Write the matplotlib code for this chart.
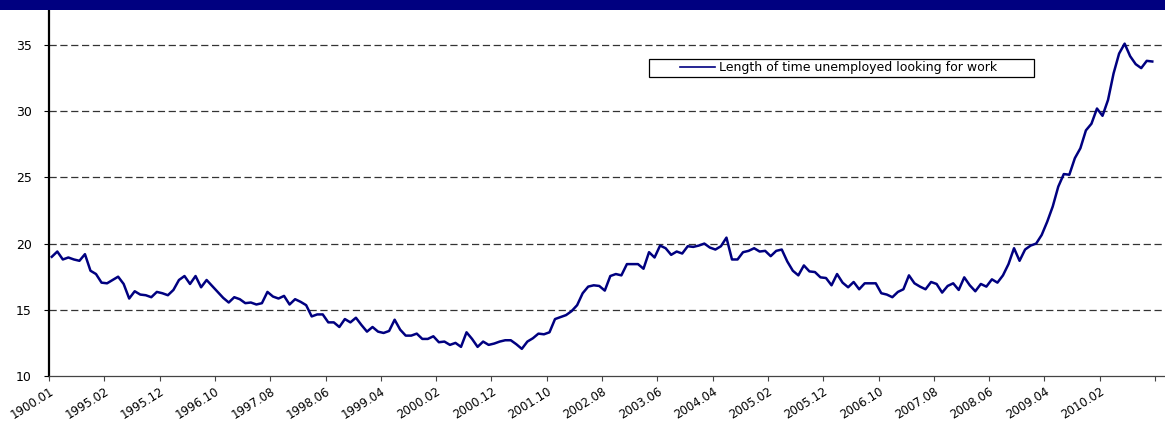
import matplotlib
matplotlib.use("Agg")
import matplotlib.pyplot as plt
from matplotlib.patches import Rectangle

# Monthly series, first month labelled "1900.01" in the source workbook
months_label = ['1900.01', '1995.02', '1995.12', '1996.10', '1997.08', '1998.06',
                '1999.04', '2000.02', '2000.12', '2001.10', '2002.08', '2003.06',
                '2004.04', '2005.02', '2005.12', '2006.10', '2007.08', '2008.06',
                '2009.04', '2010.02', '']

weeks_unemployed = [
    19.0, 19.4, 18.8, 18.95, 18.8, 18.7, 19.2, 17.95, 17.7, 17.05,
    17.0, 17.25, 17.5, 16.95, 15.85, 16.4, 16.15, 16.1, 15.95, 16.35,
    16.25, 16.1, 16.5, 17.25, 17.55, 16.95, 17.55, 16.7, 17.25, 16.8,
    16.35, 15.9, 15.55, 15.95, 15.8, 15.5, 15.55, 15.4, 15.5, 16.35,
    16.0, 15.85, 16.05, 15.4, 15.8, 15.6, 15.35, 14.5, 14.65, 14.65,
    14.05, 14.05, 13.7, 14.3, 14.05, 14.4, 13.85, 13.35, 13.7, 13.35,
    13.25, 13.4, 14.25, 13.5, 13.05, 13.05, 13.2, 12.8, 12.8, 13.0,
    12.55, 12.6, 12.35, 12.5, 12.2, 13.3, 12.8, 12.2, 12.6, 12.35,
    12.45, 12.6, 12.7, 12.7, 12.4, 12.05, 12.6, 12.85, 13.2, 13.15,
    13.3, 14.3, 14.45, 14.6, 14.9, 15.35, 16.25, 16.75, 16.85, 16.8,
    16.45, 17.55, 17.7, 17.6, 18.45, 18.45, 18.45, 18.1, 19.35, 18.95,
    19.85, 19.65, 19.15, 19.4, 19.25, 19.8, 19.75, 19.85, 20.0, 19.7,
    19.55, 19.8, 20.45, 18.8, 18.8, 19.35, 19.45, 19.65, 19.4, 19.45,
    19.05, 19.45, 19.55, 18.65, 17.95, 17.6, 18.35, 17.9, 17.85, 17.45,
    17.4, 16.85, 17.7, 17.05, 16.7, 17.1, 16.55, 17.0, 17.0, 17.0,
    16.25, 16.15, 15.95, 16.35, 16.55, 17.6, 17.0, 16.75, 16.55, 17.1,
    16.95, 16.3, 16.8, 17.0, 16.5, 17.45, 16.85, 16.4, 16.95, 16.75,
    17.3, 17.05, 17.6, 18.45, 19.65, 18.7, 19.55, 19.85, 20.0, 20.65,
    21.65, 22.8, 24.3, 25.25, 25.2, 26.45, 27.2, 28.55, 29.05, 30.2,
    29.65, 30.85, 32.85, 34.35, 35.1, 34.15, 33.55, 33.25, 33.8, 33.75,
]

navy = '#000080'
plt.rcParams['font.family'] = ['DejaVu Sans']
plt.rcParams['lines.scale_dashes'] = False

fig = plt.figure(figsize=(11.65, 4.25), dpi=100)
ax = fig.add_axes([49 / 1165, 49 / 425, 1 - 49 / 1165, 366 / 425])

# top banner
fig.patches.append(Rectangle((0, 1 - 9.5 / 425), 1, 9.5 / 425, transform=fig.transFigure,
                             facecolor=navy, edgecolor='none', zorder=5))

xs = [i + 0.5 for i in range(len(weeks_unemployed))]
ax.plot(xs, weeks_unemployed, color=navy, lw=1.8,
        label='Length of time unemployed looking for work', zorder=3)

ax.set_xlim(0, 201.8)
ax.set_ylim(10, 37.64)
ax.set_yticks([10, 15, 20, 25, 30, 35])
for v in [15, 20, 25, 30, 35]:
    ax.axhline(v, color='#333333', lw=0.9, dashes=(5.2, 2.6), zorder=1)

ax.set_xticks(range(0, 201, 10))
ax.set_xticklabels(months_label, rotation=32, ha='right', va='top',
                   rotation_mode='anchor', fontsize=8.5)
ax.tick_params(axis='x', length=3.5, width=0.8, color='#444444', pad=3)
ax.tick_params(axis='y', length=3.5, width=0.8, labelsize=9, pad=9)

for s in ['top', 'right']:
    ax.spines[s].set_visible(False)
ax.spines['left'].set_linewidth(1.6)
ax.spines['bottom'].set_linewidth(0.9)
ax.spines['bottom'].set_color('#444444')

# legend: frame drawn separately so the handle sits inset like the original
ax.add_patch(Rectangle((649 / 1165, 1 - 77 / 425), 385 / 1165, 18 / 425,
                       transform=fig.transFigure, facecolor='white',
                       edgecolor='black', lw=0.9, zorder=4, clip_on=False))
leg = ax.legend(loc='center left', bbox_to_anchor=(680 / 1165, 1 - 68 / 425),
                bbox_transform=fig.transFigure, fontsize=9, frameon=False,
                borderpad=0, handlelength=2.8, handletextpad=0.35, borderaxespad=0)
leg.set_zorder(6)
leg.get_lines()[0].set_linewidth(1.2)

fig.savefig('out.png', dpi=100)
